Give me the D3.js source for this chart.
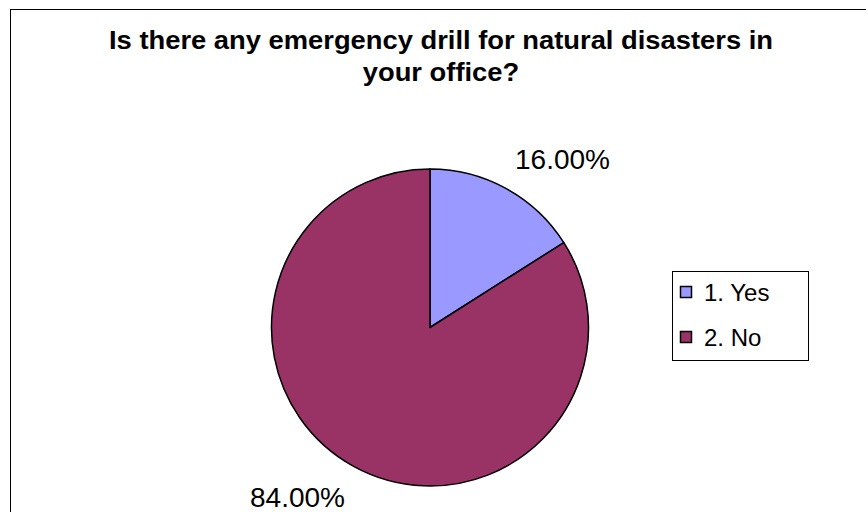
<!DOCTYPE html>
<html>
<head>
<meta charset="utf-8">
<script src="https://cdn.jsdelivr.net/npm/d3@7"></script>
<style>
  body { margin: 0; background: #fff; }
  svg { display: block; font-family: "Liberation Sans", Arial, sans-serif; }
</style>
</head>
<body>
<svg id="chart" width="866" height="512"></svg>
<script>
const categories = ["1. Yes", "2. No"];
const values = [16, 84];
const valueLabels = ["16.00%", "84.00%"];
const colors = ["#9999FF", "#993366"];
const titleLines = ["Is there any emergency drill for natural disasters in", "your office?"];

const svg = d3.select("#chart");

// outer frame
svg.append("rect").attr("x", 10.5).attr("y", 9.5).attr("width", 870).attr("height", 520)
  .attr("fill", "#fff").attr("stroke", "#000").attr("stroke-width", 1);

// title (glyphs horizontally condensed to match the reference)
const titleSel = svg.append("g").selectAll("text").data(titleLines).join("text")
  .attr("x", 441).attr("y", (d, i) => 49 + i * 32)
  .attr("text-anchor", "middle")
  .attr("font-weight", "bold").attr("font-size", 26)
  .text(d => d);
const natural = titleSel.nodes().map(n => n.getComputedTextLength());
const squeeze = 664 / natural[0];
titleSel.attr("textLength", (d, i) => natural[i] * squeeze).attr("lengthAdjust", "spacingAndGlyphs");

const cx = 430, cy = 327.5, R = 158.5;
const pie = d3.pie().sort(null).value(d => d)(values);
const arc = d3.arc().innerRadius(0).outerRadius(R);

const g = svg.append("g").attr("transform", `translate(${cx},${cy})`);
g.selectAll("path").data(pie).join("path")
  .attr("d", arc)
  .attr("fill", (d, i) => colors[i])
  .attr("stroke", "#000").attr("stroke-width", 1.5).attr("stroke-linejoin", "round");

// labels outside the pie
const labelArc = d3.arc().innerRadius(R + 20).outerRadius(R + 20);
const labelAdjust = [[-1, -2, "start"], [1, 23, "end"]];
g.selectAll("text.lbl").data(pie).join("text").attr("class", "lbl")
  .attr("x", (d, i) => labelArc.centroid(d)[0] + labelAdjust[i][0])
  .attr("y", (d, i) => labelArc.centroid(d)[1] + labelAdjust[i][1])
  .attr("text-anchor", (d, i) => labelAdjust[i][2])
  .attr("font-size", 28)
  .text((d, i) => valueLabels[i]);

// legend
const lg = svg.append("g");
lg.append("rect").attr("x", 672.5).attr("y", 271.5).attr("width", 136).attr("height", 89)
  .attr("fill", "#fff").attr("stroke", "#000").attr("stroke-width", 1);
const items = lg.selectAll("g.item").data(categories).join("g").attr("class", "item")
  .attr("transform", (d, i) => `translate(680, ${292 + i * 45})`);
items.append("rect").attr("x", 0.5).attr("y", -5.5).attr("width", 11).attr("height", 11)
  .attr("fill", (d, i) => colors[i]).attr("stroke", "#000").attr("stroke-width", 1.5);
items.append("text").attr("x", 24).attr("y", 8.5)
  .attr("font-size", 24).text(d => d);
</script>
</body>
</html>
